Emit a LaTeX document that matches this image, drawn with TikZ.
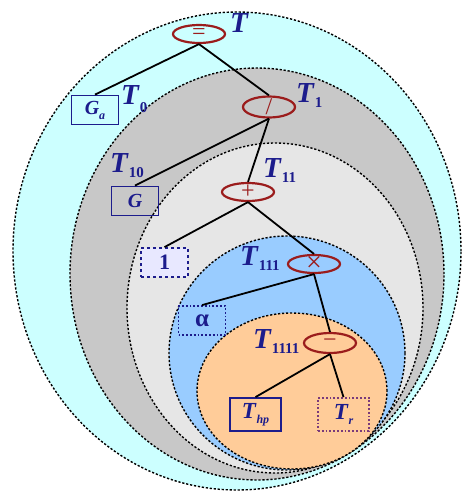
\documentclass[tikz,border=0pt]{standalone}
\usepackage{fontspec}
\setmainfont{Liberation Serif}
\usepackage{tikz}
\usetikzlibrary{shapes.geometric,positioning}
\definecolor{trcyan}{HTML}{CCFFFF}
\definecolor{trdgray}{HTML}{C8C8C8}
\definecolor{trlgray}{HTML}{E6E6E6}
\definecolor{trblue}{HTML}{99CCFF}
\definecolor{trorange}{HTML}{FFCC99}
\definecolor{trred}{HTML}{9B1C1C}
\definecolor{trnavy}{HTML}{1C1C8C}
\definecolor{trlav}{HTML}{E8E8FF}
\definecolor{trpurple}{HTML}{7A3A7A}

\newcommand{\tsub}[2]{\textbf{\textit{#1}}\raisebox{-5pt}{\fontsize{15}{15}\selectfont\bfseries #2}}
\newcommand{\itsub}[2]{\textbf{\textit{#1}}\raisebox{-5pt}{\fontsize{12}{12}\selectfont\bfseries\itshape #2}}

\begin{document}
\begin{tikzpicture}[
    x=1pt, y=-1pt,
    region/.style={draw=black, line width=1.4pt, dash pattern=on 2.2pt off 1.8pt},
    op/.style={ellipse, draw=trred, line width=2.2pt, minimum width=52pt, minimum height=18pt, inner sep=0pt},
    opsym/.style={text=trred, font=\fontsize{24}{24}\selectfont, inner sep=0pt},
    leaf/.style={rectangle, draw=trnavy, line width=1.8pt, minimum width=47pt, minimum height=29pt, inner sep=0pt, text=trnavy},
    branch/.style={draw=black, line width=1.8pt},
    tlabel/.style={text=trnavy, font=\fontsize{29}{29}\selectfont, anchor=base west, inner sep=0pt}
  ]
  \useasboundingbox (0,0) rectangle (462,491);
  \fill[white] (0,0) rectangle (462,491);

  % Nested subtrees
  \draw[region, fill=trcyan] (237,251) ellipse [x radius=224pt, y radius=239pt];
  \draw[region, fill=trdgray] (257,274) ellipse [x radius=187pt, y radius=206pt];
  \draw[region, fill=trlgray] (275,308) ellipse [x radius=148pt, y radius=165pt];
  \draw[region, fill=trblue] (287,353) ellipse [x radius=118pt, y radius=117pt];
  \draw[region, fill=trorange] (292,391) ellipse [x radius=95pt, y radius=78pt];

  % Operators
  \node[op, label={[opsym]center:=}] (eq) at (199,34) {};
  \node[op, minimum height=21pt, label={[opsym]center:/}] (dv) at (269,107) {};
  \node[op, label={[opsym]center:+}] (pl) at (248,192) {};
  \node[op, label={[opsym, font=\fontsize{28}{28}\selectfont]center:×}] (ml) at (314,264) {};
  \node[op, minimum height=20pt, label={[opsym]center:−}] (mn) at (330,343) {};

  % Leaves
  \node[leaf, font=\fontsize{20}{20}\selectfont] (ga) at (95,110) {\itsub{G}{a}};
  \node[leaf, font=\fontsize{20}{20}\selectfont\bfseries\itshape] (g) at (135,201) {G};
  \node[leaf, dashed, fill=trlav, font=\fontsize{22}{22}\selectfont\bfseries] (one) at (164.5,262.5) {1};
  \node[leaf, dotted, font=\fontsize{25}{25}\selectfont\bfseries] (al) at (202,320.5) {α};
  \node[leaf, minimum width=51pt, minimum height=33pt, font=\fontsize{23}{23}\selectfont] (thp) at (255.5,414.5) {\itsub{T}{hp}};
  \node[leaf, dotted, draw=trpurple, minimum width=51pt, minimum height=33pt, font=\fontsize{23}{23}\selectfont] (tr) at (343.5,414.5) {\itsub{T}{r}};

  % Branches
  \draw[branch] (eq.south) -- (ga.north);
  \draw[branch] (eq.south) -- (dv.north);
  \draw[branch] (dv.south) -- (g.north);
  \draw[branch] (dv.south) -- (pl.north);
  \draw[branch] (pl.south) -- (one.north);
  \draw[branch] (pl.south) -- (ml.north);
  \draw[branch] (ml.south) -- (al.north);
  \draw[branch] (ml.south) -- (mn.north);
  \draw[branch] (mn.south) -- (thp.north);
  \draw[branch] (mn.south) -- (tr.north);

  % Subtree names
  \node[tlabel] (lt) at (230,32) {\textbf{\textit{T}}};
  \node[tlabel] (lt0) at (121,104) {\textbf{\textit{T}}\raisebox{-8pt}{\fontsize{15}{15}\selectfont\bfseries 0}};
  \node[tlabel] (lt1) at (296,102) {\tsub{T}{1}};
  \node[tlabel] (lt10) at (110,172) {\tsub{T}{10}};
  \node[tlabel] (lt11) at (263,177) {\tsub{T}{11}};
  \node[tlabel] (lt111) at (240,265) {\tsub{T}{111}};
  \node[tlabel] (lt1111) at (253,348) {\tsub{T}{1111}};
\end{tikzpicture}
\end{document}
